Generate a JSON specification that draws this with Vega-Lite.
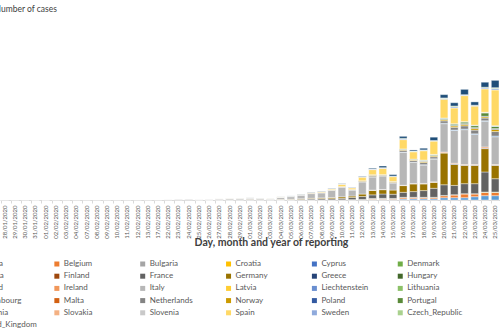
{
  "$schema": "https://vega.github.io/schema/vega-lite/v6.json",
  "width": 500,
  "height": 180,
  "autosize": {"type": "none"},
  "padding": {"left": 0, "right": 0, "top": 20, "bottom": 135},
  "background": "white",
  "config": {"view": {"stroke": null}, "font": "Lato"},
  "datasets": {
    "countries": [
      {"country":"Austria","rank":1},{"country":"Belgium","rank":2},{"country":"Bulgaria","rank":3},{"country":"Croatia","rank":4},{"country":"Cyprus","rank":5},{"country":"Denmark","rank":6},
      {"country":"Estonia","rank":7},{"country":"Finland","rank":8},{"country":"France","rank":9},{"country":"Germany","rank":10},{"country":"Greece","rank":11},{"country":"Hungary","rank":12},
      {"country":"Iceland","rank":13},{"country":"Ireland","rank":14},{"country":"Italy","rank":15},{"country":"Latvia","rank":16},{"country":"Liechtenstein","rank":17},{"country":"Lithuania","rank":18},
      {"country":"Luxembourg","rank":19},{"country":"Malta","rank":20},{"country":"Netherlands","rank":21},{"country":"Norway","rank":22},{"country":"Poland","rank":23},{"country":"Portugal","rank":24},
      {"country":"Romania","rank":25},{"country":"Slovakia","rank":26},{"country":"Slovenia","rank":27},{"country":"Spain","rank":28},{"country":"Sweden","rank":29},{"country":"Czech_Republic","rank":30},
      {"country":"United_Kingdom","rank":31}
    ]
  },
  "data": {"values": [
    {"date":"28/01/2020","country":"Germany","cases":1},
    {"date":"29/01/2020","country":"Germany","cases":3},
    {"date":"30/01/2020","country":"Germany","cases":1},
    {"date":"31/01/2020","country":"Italy","cases":2},
    {"date":"31/01/2020","country":"Germany","cases":1},
    {"date":"01/02/2020","country":"Germany","cases":1},
    {"date":"01/02/2020","country":"United_Kingdom","cases":2},
    {"date":"02/02/2020","country":"Germany","cases":2},
    {"date":"03/02/2020","country":"Germany","cases":2},
    {"date":"04/02/2020","country":"Germany","cases":1},
    {"date":"07/02/2020","country":"Germany","cases":1},
    {"date":"08/02/2020","country":"France","cases":5},
    {"date":"09/02/2020","country":"United_Kingdom","cases":1},
    {"date":"10/02/2020","country":"United_Kingdom","cases":4},
    {"date":"11/02/2020","country":"Germany","cases":2},
    {"date":"12/02/2020","country":"United_Kingdom","cases":1},
    {"date":"13/02/2020","country":"Germany","cases":2},
    {"date":"17/02/2020","country":"Germany","cases":1},
    {"date":"22/02/2020","country":"Italy","cases":17},
    {"date":"23/02/2020","country":"Italy","cases":58},
    {"date":"24/02/2020","country":"Italy","cases":78},
    {"date":"25/02/2020","country":"Austria","cases":2},
    {"date":"25/02/2020","country":"Italy","cases":72},
    {"date":"25/02/2020","country":"Spain","cases":4},
    {"date":"26/02/2020","country":"France","cases":4},
    {"date":"26/02/2020","country":"Germany","cases":10},
    {"date":"26/02/2020","country":"Italy","cases":94},
    {"date":"26/02/2020","country":"Spain","cases":3},
    {"date":"27/02/2020","country":"France","cases":20},
    {"date":"27/02/2020","country":"Germany","cases":26},
    {"date":"27/02/2020","country":"Italy","cases":147},
    {"date":"27/02/2020","country":"Spain","cases":10},
    {"date":"27/02/2020","country":"United_Kingdom","cases":3},
    {"date":"28/02/2020","country":"France","cases":19},
    {"date":"28/02/2020","country":"Germany","cases":20},
    {"date":"28/02/2020","country":"Italy","cases":185},
    {"date":"28/02/2020","country":"Spain","cases":8},
    {"date":"29/02/2020","country":"France","cases":43},
    {"date":"29/02/2020","country":"Germany","cases":13},
    {"date":"29/02/2020","country":"Italy","cases":234},
    {"date":"29/02/2020","country":"Spain","cases":13},
    {"date":"29/02/2020","country":"United_Kingdom","cases":3},
    {"date":"01/03/2020","country":"France","cases":30},
    {"date":"01/03/2020","country":"Germany","cases":57},
    {"date":"01/03/2020","country":"Italy","cases":239},
    {"date":"01/03/2020","country":"Netherlands","cases":6},
    {"date":"01/03/2020","country":"Spain","cases":13},
    {"date":"01/03/2020","country":"United_Kingdom","cases":12},
    {"date":"02/03/2020","country":"France","cases":30},
    {"date":"02/03/2020","country":"Germany","cases":30},
    {"date":"02/03/2020","country":"Italy","cases":200},
    {"date":"02/03/2020","country":"Spain","cases":25},
    {"date":"02/03/2020","country":"United_Kingdom","cases":13},
    {"date":"03/03/2020","country":"France","cases":30},
    {"date":"03/03/2020","country":"Germany","cases":20},
    {"date":"03/03/2020","country":"Italy","cases":120},
    {"date":"03/03/2020","country":"Spain","cases":20},
    {"date":"03/03/2020","country":"United_Kingdom","cases":10},
    {"date":"04/03/2020","country":"Belgium","cases":5},
    {"date":"04/03/2020","country":"Denmark","cases":5},
    {"date":"04/03/2020","country":"France","cases":60},
    {"date":"04/03/2020","country":"Germany","cases":50},
    {"date":"04/03/2020","country":"Italy","cases":350},
    {"date":"04/03/2020","country":"Netherlands","cases":10},
    {"date":"04/03/2020","country":"Norway","cases":10},
    {"date":"04/03/2020","country":"Spain","cases":40},
    {"date":"04/03/2020","country":"Sweden","cases":5},
    {"date":"04/03/2020","country":"United_Kingdom","cases":15},
    {"date":"05/03/2020","country":"Belgium","cases":10},
    {"date":"05/03/2020","country":"France","cases":70},
    {"date":"05/03/2020","country":"Germany","cases":60},
    {"date":"05/03/2020","country":"Italy","cases":410},
    {"date":"05/03/2020","country":"Netherlands","cases":20},
    {"date":"05/03/2020","country":"Norway","cases":15},
    {"date":"05/03/2020","country":"Spain","cases":50},
    {"date":"05/03/2020","country":"Sweden","cases":10},
    {"date":"05/03/2020","country":"United_Kingdom","cases":30},
    {"date":"06/03/2020","country":"France","cases":110},
    {"date":"06/03/2020","country":"Germany","cases":100},
    {"date":"06/03/2020","country":"Italy","cases":590},
    {"date":"06/03/2020","country":"Netherlands","cases":40},
    {"date":"06/03/2020","country":"Norway","cases":30},
    {"date":"06/03/2020","country":"Spain","cases":80},
    {"date":"06/03/2020","country":"Sweden","cases":20},
    {"date":"06/03/2020","country":"United_Kingdom","cases":30},
    {"date":"07/03/2020","country":"Belgium","cases":15},
    {"date":"07/03/2020","country":"France","cases":150},
    {"date":"07/03/2020","country":"Germany","cases":120},
    {"date":"07/03/2020","country":"Italy","cases":780},
    {"date":"07/03/2020","country":"Netherlands","cases":60},
    {"date":"07/03/2020","country":"Norway","cases":40},
    {"date":"07/03/2020","country":"Spain","cases":100},
    {"date":"07/03/2020","country":"Sweden","cases":30},
    {"date":"07/03/2020","country":"United_Kingdom","cases":40},
    {"date":"08/03/2020","country":"Belgium","cases":20},
    {"date":"08/03/2020","country":"France","cases":200},
    {"date":"08/03/2020","country":"Germany","cases":130},
    {"date":"08/03/2020","country":"Italy","cases":830},
    {"date":"08/03/2020","country":"Netherlands","cases":50},
    {"date":"08/03/2020","country":"Norway","cases":30},
    {"date":"08/03/2020","country":"Spain","cases":150},
    {"date":"08/03/2020","country":"Sweden","cases":30},
    {"date":"08/03/2020","country":"United_Kingdom","cases":50},
    {"date":"09/03/2020","country":"Belgium","cases":20},
    {"date":"09/03/2020","country":"France","cases":200},
    {"date":"09/03/2020","country":"Germany","cases":200},
    {"date":"09/03/2020","country":"Italy","cases":1160},
    {"date":"09/03/2020","country":"Netherlands","cases":70},
    {"date":"09/03/2020","country":"Norway","cases":50},
    {"date":"09/03/2020","country":"Spain","cases":150},
    {"date":"09/03/2020","country":"Sweden","cases":40},
    {"date":"09/03/2020","country":"United_Kingdom","cases":60},
    {"date":"10/03/2020","country":"Belgium","cases":30},
    {"date":"10/03/2020","country":"France","cases":250},
    {"date":"10/03/2020","country":"Germany","cases":250},
    {"date":"10/03/2020","country":"Italy","cases":1600},
    {"date":"10/03/2020","country":"Netherlands","cases":50},
    {"date":"10/03/2020","country":"Norway","cases":60},
    {"date":"10/03/2020","country":"Spain","cases":380},
    {"date":"10/03/2020","country":"Sweden","cases":50},
    {"date":"10/03/2020","country":"United_Kingdom","cases":50},
    {"date":"11/03/2020","country":"Belgium","cases":40},
    {"date":"11/03/2020","country":"Denmark","cases":20},
    {"date":"11/03/2020","country":"France","cases":350},
    {"date":"11/03/2020","country":"Germany","cases":250},
    {"date":"11/03/2020","country":"Italy","cases":980},
    {"date":"11/03/2020","country":"Netherlands","cases":60},
    {"date":"11/03/2020","country":"Norway","cases":70},
    {"date":"11/03/2020","country":"Spain","cases":250},
    {"date":"11/03/2020","country":"Sweden","cases":50},
    {"date":"11/03/2020","country":"United_Kingdom","cases":50},
    {"date":"12/03/2020","country":"Belgium","cases":60},
    {"date":"12/03/2020","country":"Denmark","cases":30},
    {"date":"12/03/2020","country":"France","cases":500},
    {"date":"12/03/2020","country":"Germany","cases":400},
    {"date":"12/03/2020","country":"Italy","cases":2000},
    {"date":"12/03/2020","country":"Netherlands","cases":120},
    {"date":"12/03/2020","country":"Norway","cases":100},
    {"date":"12/03/2020","country":"Spain","cases":600},
    {"date":"12/03/2020","country":"Sweden","cases":60},
    {"date":"12/03/2020","country":"United_Kingdom","cases":80},
    {"date":"13/03/2020","country":"Austria","cases":70},
    {"date":"13/03/2020","country":"Belgium","cases":100},
    {"date":"13/03/2020","country":"Denmark","cases":60},
    {"date":"13/03/2020","country":"Finland","cases":30},
    {"date":"13/03/2020","country":"France","cases":600},
    {"date":"13/03/2020","country":"Germany","cases":750},
    {"date":"13/03/2020","country":"Greece","cases":30},
    {"date":"13/03/2020","country":"Ireland","cases":20},
    {"date":"13/03/2020","country":"Italy","cases":2150},
    {"date":"13/03/2020","country":"Netherlands","cases":170},
    {"date":"13/03/2020","country":"Norway","cases":170},
    {"date":"13/03/2020","country":"Poland","cases":20},
    {"date":"13/03/2020","country":"Portugal","cases":40},
    {"date":"13/03/2020","country":"Spain","cases":850},
    {"date":"13/03/2020","country":"Sweden","cases":100},
    {"date":"13/03/2020","country":"Czech_Republic","cases":40},
    {"date":"13/03/2020","country":"United_Kingdom","cases":130},
    {"date":"14/03/2020","country":"Austria","cases":100},
    {"date":"14/03/2020","country":"Belgium","cases":100},
    {"date":"14/03/2020","country":"Denmark","cases":60},
    {"date":"14/03/2020","country":"Finland","cases":20},
    {"date":"14/03/2020","country":"France","cases":720},
    {"date":"14/03/2020","country":"Germany","cases":720},
    {"date":"14/03/2020","country":"Greece","cases":20},
    {"date":"14/03/2020","country":"Ireland","cases":20},
    {"date":"14/03/2020","country":"Italy","cases":2220},
    {"date":"14/03/2020","country":"Netherlands","cases":150},
    {"date":"14/03/2020","country":"Norway","cases":70},
    {"date":"14/03/2020","country":"Portugal","cases":30},
    {"date":"14/03/2020","country":"Spain","cases":1050},
    {"date":"14/03/2020","country":"Sweden","cases":60},
    {"date":"14/03/2020","country":"Czech_Republic","cases":50},
    {"date":"14/03/2020","country":"United_Kingdom","cases":280},
    {"date":"15/03/2020","country":"Austria","cases":100},
    {"date":"15/03/2020","country":"Belgium","cases":130},
    {"date":"15/03/2020","country":"Denmark","cases":30},
    {"date":"15/03/2020","country":"France","cases":700},
    {"date":"15/03/2020","country":"Germany","cases":700},
    {"date":"15/03/2020","country":"Italy","cases":1100},
    {"date":"15/03/2020","country":"Netherlands","cases":180},
    {"date":"15/03/2020","country":"Norway","cases":100},
    {"date":"15/03/2020","country":"Portugal","cases":50},
    {"date":"15/03/2020","country":"Spain","cases":800},
    {"date":"15/03/2020","country":"Sweden","cases":60},
    {"date":"15/03/2020","country":"Czech_Republic","cases":30},
    {"date":"15/03/2020","country":"United_Kingdom","cases":250},
    {"date":"16/03/2020","country":"Austria","cases":160},
    {"date":"16/03/2020","country":"Belgium","cases":200},
    {"date":"16/03/2020","country":"Denmark","cases":40},
    {"date":"16/03/2020","country":"Finland","cases":50},
    {"date":"16/03/2020","country":"France","cases":830},
    {"date":"16/03/2020","country":"Germany","cases":1120},
    {"date":"16/03/2020","country":"Greece","cases":25},
    {"date":"16/03/2020","country":"Ireland","cases":35},
    {"date":"16/03/2020","country":"Italy","cases":5500},
    {"date":"16/03/2020","country":"Luxembourg","cases":30},
    {"date":"16/03/2020","country":"Netherlands","cases":280},
    {"date":"16/03/2020","country":"Norway","cases":130},
    {"date":"16/03/2020","country":"Poland","cases":30},
    {"date":"16/03/2020","country":"Portugal","cases":80},
    {"date":"16/03/2020","country":"Spain","cases":1550},
    {"date":"16/03/2020","country":"Sweden","cases":120},
    {"date":"16/03/2020","country":"Czech_Republic","cases":100},
    {"date":"16/03/2020","country":"United_Kingdom","cases":330},
    {"date":"17/03/2020","country":"Austria","cases":200},
    {"date":"17/03/2020","country":"Belgium","cases":170},
    {"date":"17/03/2020","country":"Denmark","cases":40},
    {"date":"17/03/2020","country":"Finland","cases":40},
    {"date":"17/03/2020","country":"France","cases":950},
    {"date":"17/03/2020","country":"Germany","cases":1290},
    {"date":"17/03/2020","country":"Greece","cases":30},
    {"date":"17/03/2020","country":"Ireland","cases":40},
    {"date":"17/03/2020","country":"Italy","cases":3500},
    {"date":"17/03/2020","country":"Luxembourg","cases":30},
    {"date":"17/03/2020","country":"Netherlands","cases":280},
    {"date":"17/03/2020","country":"Norway","cases":120},
    {"date":"17/03/2020","country":"Poland","cases":40},
    {"date":"17/03/2020","country":"Portugal","cases":80},
    {"date":"17/03/2020","country":"Spain","cases":1220},
    {"date":"17/03/2020","country":"Sweden","cases":70},
    {"date":"17/03/2020","country":"Czech_Republic","cases":70},
    {"date":"17/03/2020","country":"United_Kingdom","cases":170},
    {"date":"18/03/2020","country":"Austria","cases":200},
    {"date":"18/03/2020","country":"Belgium","cases":190},
    {"date":"18/03/2020","country":"Denmark","cases":30},
    {"date":"18/03/2020","country":"Finland","cases":30},
    {"date":"18/03/2020","country":"France","cases":1120},
    {"date":"18/03/2020","country":"Germany","cases":1120},
    {"date":"18/03/2020","country":"Greece","cases":30},
    {"date":"18/03/2020","country":"Ireland","cases":50},
    {"date":"18/03/2020","country":"Italy","cases":3050},
    {"date":"18/03/2020","country":"Luxembourg","cases":70},
    {"date":"18/03/2020","country":"Netherlands","cases":350},
    {"date":"18/03/2020","country":"Norway","cases":200},
    {"date":"18/03/2020","country":"Poland","cases":60},
    {"date":"18/03/2020","country":"Portugal","cases":120},
    {"date":"18/03/2020","country":"Romania","cases":40},
    {"date":"18/03/2020","country":"Spain","cases":1550},
    {"date":"18/03/2020","country":"Sweden","cases":80},
    {"date":"18/03/2020","country":"Czech_Republic","cases":60},
    {"date":"18/03/2020","country":"United_Kingdom","cases":280},
    {"date":"19/03/2020","country":"Austria","cases":200},
    {"date":"19/03/2020","country":"Belgium","cases":200},
    {"date":"19/03/2020","country":"Denmark","cases":50},
    {"date":"19/03/2020","country":"France","cases":1500},
    {"date":"19/03/2020","country":"Germany","cases":1000},
    {"date":"19/03/2020","country":"Greece","cases":30},
    {"date":"19/03/2020","country":"Ireland","cases":50},
    {"date":"19/03/2020","country":"Italy","cases":3790},
    {"date":"19/03/2020","country":"Luxembourg","cases":60},
    {"date":"19/03/2020","country":"Netherlands","cases":330},
    {"date":"19/03/2020","country":"Norway","cases":150},
    {"date":"19/03/2020","country":"Poland","cases":60},
    {"date":"19/03/2020","country":"Portugal","cases":130},
    {"date":"19/03/2020","country":"Romania","cases":50},
    {"date":"19/03/2020","country":"Spain","cases":2220},
    {"date":"19/03/2020","country":"Sweden","cases":60},
    {"date":"19/03/2020","country":"Czech_Republic","cases":40},
    {"date":"19/03/2020","country":"United_Kingdom","cases":550},
    {"date":"20/03/2020","country":"Austria","cases":380},
    {"date":"20/03/2020","country":"Belgium","cases":330},
    {"date":"20/03/2020","country":"Denmark","cases":50},
    {"date":"20/03/2020","country":"France","cases":1780},
    {"date":"20/03/2020","country":"Germany","cases":5290},
    {"date":"20/03/2020","country":"Greece","cases":50},
    {"date":"20/03/2020","country":"Ireland","cases":120},
    {"date":"20/03/2020","country":"Italy","cases":4720},
    {"date":"20/03/2020","country":"Luxembourg","cases":70},
    {"date":"20/03/2020","country":"Netherlands","cases":400},
    {"date":"20/03/2020","country":"Norway","cases":180},
    {"date":"20/03/2020","country":"Poland","cases":70},
    {"date":"20/03/2020","country":"Portugal","cases":180},
    {"date":"20/03/2020","country":"Romania","cases":50},
    {"date":"20/03/2020","country":"Spain","cases":3120},
    {"date":"20/03/2020","country":"Sweden","cases":130},
    {"date":"20/03/2020","country":"Czech_Republic","cases":90},
    {"date":"20/03/2020","country":"United_Kingdom","cases":550},
    {"date":"21/03/2020","country":"Austria","cases":380},
    {"date":"21/03/2020","country":"Belgium","cases":450},
    {"date":"21/03/2020","country":"Denmark","cases":50},
    {"date":"21/03/2020","country":"France","cases":1550},
    {"date":"21/03/2020","country":"Germany","cases":3500},
    {"date":"21/03/2020","country":"Greece","cases":80},
    {"date":"21/03/2020","country":"Ireland","cases":120},
    {"date":"21/03/2020","country":"Italy","cases":5460},
    {"date":"21/03/2020","country":"Luxembourg","cases":80},
    {"date":"21/03/2020","country":"Netherlands","cases":450},
    {"date":"21/03/2020","country":"Norway","cases":220},
    {"date":"21/03/2020","country":"Poland","cases":90},
    {"date":"21/03/2020","country":"Portugal","cases":220},
    {"date":"21/03/2020","country":"Romania","cases":60},
    {"date":"21/03/2020","country":"Spain","cases":2620},
    {"date":"21/03/2020","country":"Sweden","cases":200},
    {"date":"21/03/2020","country":"Czech_Republic","cases":130},
    {"date":"21/03/2020","country":"United_Kingdom","cases":550},
    {"date":"22/03/2020","country":"Austria","cases":380},
    {"date":"22/03/2020","country":"Belgium","cases":620},
    {"date":"22/03/2020","country":"Denmark","cases":50},
    {"date":"22/03/2020","country":"France","cases":1670},
    {"date":"22/03/2020","country":"Germany","cases":3050},
    {"date":"22/03/2020","country":"Greece","cases":50},
    {"date":"22/03/2020","country":"Ireland","cases":100},
    {"date":"22/03/2020","country":"Italy","cases":5800},
    {"date":"22/03/2020","country":"Luxembourg","cases":100},
    {"date":"22/03/2020","country":"Netherlands","cases":540},
    {"date":"22/03/2020","country":"Norway","cases":260},
    {"date":"22/03/2020","country":"Poland","cases":110},
    {"date":"22/03/2020","country":"Portugal","cases":260},
    {"date":"22/03/2020","country":"Romania","cases":70},
    {"date":"22/03/2020","country":"Spain","cases":4340},
    {"date":"22/03/2020","country":"Sweden","cases":90},
    {"date":"22/03/2020","country":"Czech_Republic","cases":60},
    {"date":"22/03/2020","country":"United_Kingdom","cases":890},
    {"date":"23/03/2020","country":"Austria","cases":550},
    {"date":"23/03/2020","country":"Belgium","cases":450},
    {"date":"23/03/2020","country":"Denmark","cases":50},
    {"date":"23/03/2020","country":"France","cases":1670},
    {"date":"23/03/2020","country":"Germany","cases":3050},
    {"date":"23/03/2020","country":"Greece","cases":50},
    {"date":"23/03/2020","country":"Ireland","cases":100},
    {"date":"23/03/2020","country":"Italy","cases":5010},
    {"date":"23/03/2020","country":"Luxembourg","cases":100},
    {"date":"23/03/2020","country":"Netherlands","cases":620},
    {"date":"23/03/2020","country":"Norway","cases":300},
    {"date":"23/03/2020","country":"Poland","cases":120},
    {"date":"23/03/2020","country":"Portugal","cases":320},
    {"date":"23/03/2020","country":"Romania","cases":90},
    {"date":"23/03/2020","country":"Spain","cases":3170},
    {"date":"23/03/2020","country":"Sweden","cases":90},
    {"date":"23/03/2020","country":"Czech_Republic","cases":60},
    {"date":"23/03/2020","country":"United_Kingdom","cases":550},
    {"date":"24/03/2020","country":"Austria","cases":720},
    {"date":"24/03/2020","country":"Belgium","cases":550},
    {"date":"24/03/2020","country":"Denmark","cases":60},
    {"date":"24/03/2020","country":"France","cases":3340},
    {"date":"24/03/2020","country":"Germany","cases":3890},
    {"date":"24/03/2020","country":"Greece","cases":80},
    {"date":"24/03/2020","country":"Ireland","cases":200},
    {"date":"24/03/2020","country":"Italy","cases":4290},
    {"date":"24/03/2020","country":"Luxembourg","cases":80},
    {"date":"24/03/2020","country":"Netherlands","cases":450},
    {"date":"24/03/2020","country":"Norway","cases":200},
    {"date":"24/03/2020","country":"Poland","cases":100},
    {"date":"24/03/2020","country":"Portugal","cases":550},
    {"date":"24/03/2020","country":"Romania","cases":70},
    {"date":"24/03/2020","country":"Slovenia","cases":50},
    {"date":"24/03/2020","country":"Spain","cases":3890},
    {"date":"24/03/2020","country":"Sweden","cases":170},
    {"date":"24/03/2020","country":"Czech_Republic","cases":110},
    {"date":"24/03/2020","country":"United_Kingdom","cases":830},
    {"date":"25/03/2020","country":"Austria","cases":720},
    {"date":"25/03/2020","country":"Belgium","cases":550},
    {"date":"25/03/2020","country":"Denmark","cases":60},
    {"date":"25/03/2020","country":"France","cases":2220},
    {"date":"25/03/2020","country":"Germany","cases":2220},
    {"date":"25/03/2020","country":"Greece","cases":50},
    {"date":"25/03/2020","country":"Ireland","cases":100},
    {"date":"25/03/2020","country":"Italy","cases":4620},
    {"date":"25/03/2020","country":"Luxembourg","cases":120},
    {"date":"25/03/2020","country":"Netherlands","cases":750},
    {"date":"25/03/2020","country":"Norway","cases":350},
    {"date":"25/03/2020","country":"Poland","cases":150},
    {"date":"25/03/2020","country":"Portugal","cases":350},
    {"date":"25/03/2020","country":"Romania","cases":120},
    {"date":"25/03/2020","country":"Spain","cases":5960},
    {"date":"25/03/2020","country":"Sweden","cases":230},
    {"date":"25/03/2020","country":"Czech_Republic","cases":150},
    {"date":"25/03/2020","country":"United_Kingdom","cases":1220}
  ]},
  "transform": [
    {"lookup": "country", "from": {"data": {"name": "countries"}, "key": "country", "fields": ["rank"]}}
  ],
  "mark": {"type": "bar", "stroke": "white", "strokeWidth": 0.4},
  "encoding": {
    "x": {
      "field": "date", "type": "nominal",
      "sort": ["28/01/2020","29/01/2020","30/01/2020","31/01/2020","01/02/2020","02/02/2020","03/02/2020","04/02/2020","07/02/2020","08/02/2020","09/02/2020","10/02/2020","11/02/2020","12/02/2020","13/02/2020","17/02/2020","22/02/2020","23/02/2020","24/02/2020","25/02/2020","26/02/2020","27/02/2020","28/02/2020","29/02/2020","01/03/2020","02/03/2020","03/03/2020","04/03/2020","05/03/2020","06/03/2020","07/03/2020","08/03/2020","09/03/2020","10/03/2020","11/03/2020","12/03/2020","13/03/2020","14/03/2020","15/03/2020","16/03/2020","17/03/2020","18/03/2020","19/03/2020","20/03/2020","21/03/2020","22/03/2020","23/03/2020","24/03/2020","25/03/2020"],
      "scale": {"paddingInner": 0.25, "paddingOuter": 0.1},
      "axis": {
        "title": "Day, month and year of reporting",
        "titleFontSize": 10.5, "titleFontWeight": "bold", "titleColor": "#404040",
        "titleX": 271, "titleY": 42, "titleAlign": "center", "titleBaseline": "middle",
        "labelAngle": -90, "labelFontSize": 6, "labelColor": "#595959", "labelPadding": 2,
        "bandPosition": 0, "tickSize": 3, "tickColor": "#D9D9D9", "domainColor": "#D9D9D9",
        "labelOverlap": false
      }
    },
    "y": {
      "field": "cases", "type": "quantitative", "stack": "zero",
      "scale": {"domain": [0, 30000]},
      "axis": {
        "title": "Number of cases", "titleAngle": 0, "titleAlign": "left", "titleBaseline": "middle",
        "titleX": -6, "titleY": -12, "titleFontSize": 8.5, "titleFontWeight": "normal", "titleColor": "#404040",
        "labels": false, "ticks": false, "domain": false, "grid": false
      }
    },
    "order": {"field": "rank", "type": "quantitative", "sort": "ascending"},
    "color": {
      "field": "country", "type": "nominal",
      "sort": ["Austria","Belgium","Bulgaria","Croatia","Cyprus","Denmark","Estonia","Finland","France","Germany","Greece","Hungary","Iceland","Ireland","Italy","Latvia","Liechtenstein","Lithuania","Luxembourg","Malta","Netherlands","Norway","Poland","Portugal","Romania","Slovakia","Slovenia","Spain","Sweden","Czech_Republic","United_Kingdom"],
      "scale": {
        "domain": ["Austria","Belgium","Bulgaria","Croatia","Cyprus","Denmark","Estonia","Finland","France","Germany","Greece","Hungary","Iceland","Ireland","Italy","Latvia","Liechtenstein","Lithuania","Luxembourg","Malta","Netherlands","Norway","Poland","Portugal","Romania","Slovakia","Slovenia","Spain","Sweden","Czech_Republic","United_Kingdom"],
        "range": ["#5B9BD5","#ED7D31","#A5A5A5","#FFC000","#4472C4","#70AD47","#255E91","#9E480E","#636363","#997300","#264478","#43682B","#7CAFDD","#F1975A","#B7B7B7","#FFCD33","#698ED0","#8CC168","#327DC2","#D26012","#848484","#CC9A00","#335AA1","#5A8A39","#9DC3E6","#F4B183","#C9C9C9","#FFD966","#8FAADC","#A9D18E","#1F4E79"]
      },
      "legend": {
        "title": null, "orient": "none", "legendX": -33, "legendY": 240, "direction": "horizontal",
        "columns": 6, "gridAlign": "all", "columnPadding": 15.85, "rowPadding": 4.2, "symbolLimit": 0,
        "symbolType": "square", "symbolSize": 25, "symbolStrokeWidth": 0,
        "labelFontSize": 8, "labelColor": "#595959", "labelOffset": 3, "padding": 0
      }
    }
  }
}
